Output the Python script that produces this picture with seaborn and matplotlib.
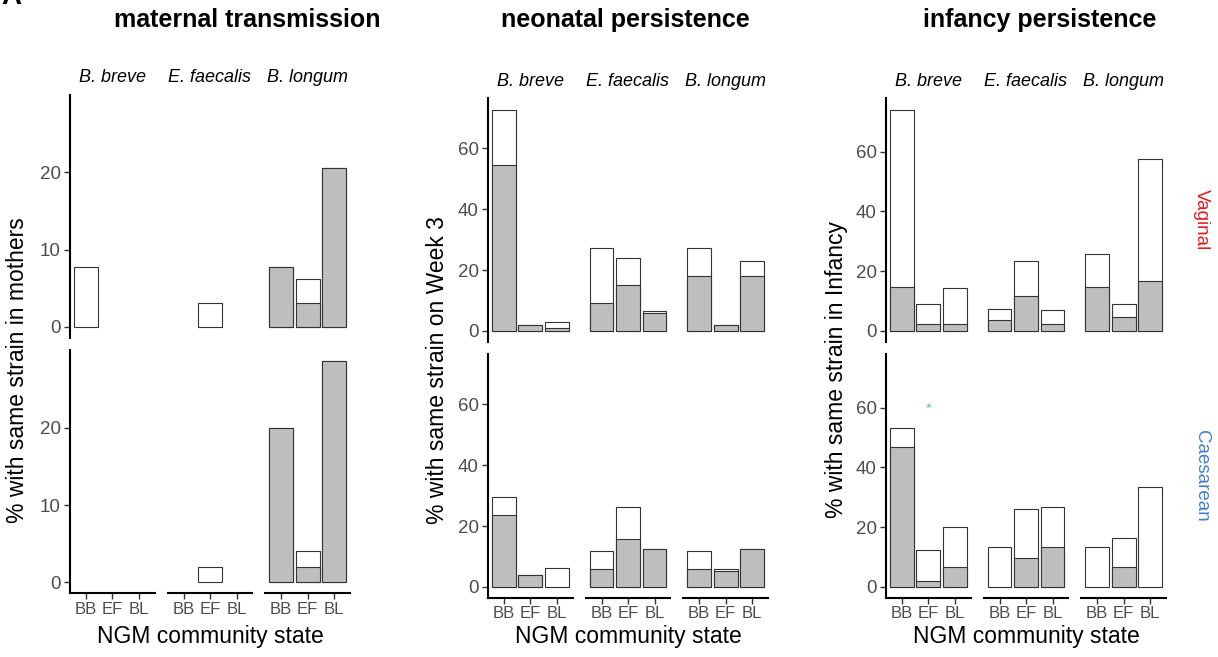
import numpy as np
import pandas as pd
import matplotlib
matplotlib.use("Agg")
import matplotlib.pyplot as plt
import seaborn as sns

# ---------------- data ----------------
states = ["BB", "EF", "BL"]
species = ["B. breve", "E. faecalis", "B. longum"]
delivery = ["Vaginal", "Caesarean"]
panel_titles = ["maternal transmission", "neonatal persistence", "infancy persistence"]
y_titles = ["% with same strain in mothers", "% with same strain on Week 3",
            "% with same strain in Infancy"]
x_title = "NGM community state"
y_ticks_maternal = [0, 10, 20]
y_ticks_persist = [0, 20, 40, 60]

# total (white) and shared/grey values: rows = species, columns = states
maternal_total_vaginal = [[7.7, 0, 0], [0, 3.1, 0], [7.7, 6.2, 20.6]]
maternal_grey_vaginal = [[0, 0, 0], [0, 0, 0], [7.7, 3.1, 20.6]]
maternal_total_caesarean = [[0, 0, 0], [0, 2.0, 0], [20.0, 4.0, 28.6]]
maternal_grey_caesarean = [[0, 0, 0], [0, 0, 0], [20.0, 2.0, 28.6]]

neonatal_total_vaginal = [[72.7, 2.1, 2.8], [27.3, 23.9, 6.7], [27.3, 2.1, 23.1]]
neonatal_grey_vaginal = [[54.5, 2.1, 0.9], [9.1, 15.2, 5.8], [18.2, 2.1, 18.2]]
neonatal_total_caesarean = [[29.4, 3.8, 6.2], [11.8, 26.3, 12.5], [11.8, 5.9, 12.5]]
neonatal_grey_caesarean = [[23.5, 3.8, 0], [5.9, 15.8, 12.5], [5.9, 5.3, 12.5]]

infancy_total_vaginal = [[74.1, 9.1, 14.3], [7.4, 23.3, 7.1], [25.9, 9.1, 57.6]]
infancy_grey_vaginal = [[14.8, 2.3, 2.3], [3.7, 11.6, 2.3], [14.8, 4.7, 16.6]]
infancy_total_caesarean = [[53.3, 12.5, 20.0], [13.3, 26.1, 26.7], [13.3, 16.5, 33.3]]
infancy_grey_caesarean = [[46.7, 2.1, 6.7], [0, 9.7, 13.3], [0, 6.7, 0]]

star_label = "*"
star_value = 59.5

panels = [
    (maternal_total_vaginal, maternal_grey_vaginal, maternal_total_caesarean, maternal_grey_caesarean),
    (neonatal_total_vaginal, neonatal_grey_vaginal, neonatal_total_caesarean, neonatal_grey_caesarean),
    (infancy_total_vaginal, infancy_grey_vaginal, infancy_total_caesarean, infancy_grey_caesarean),
]

def make_df(total, grey):
    rows = []
    for si, sp in enumerate(species):
        for ci, st in enumerate(states):
            rows.append(dict(species=sp, state=st, total=total[si][ci], grey=grey[si][ci]))
    return pd.DataFrame(rows)

# ---------------- style ----------------
sns.set_style("white")
plt.rcParams["font.family"] = ["Liberation Sans", "DejaVu Sans"]
plt.rcParams["text.color"] = "black"

W, H = 1218, 657
fig = plt.figure(figsize=(W / 100, H / 100), dpi=100)

def fx(px):
    return px / W

def fy(py):
    return 1 - py / H

panel_x0 = [70, 488, 886]
facet_w = 84.8
facet_step = 97.6
row_spans = [
    [(95, 337.7), (350.3, 593.3)],
    [(98.5, 342), (354.5, 598)],
    [(98.5, 342), (354.5, 598)],
]
title_x = [247, 625, 1040]
ylab_x = [18, 437, 836]
strip_y = [77, 81, 81]

edge = "#333333"
grey_fill = "#BEBEBE"
tick_col = "#4D4D4D"

for p, (tv, gv, tc, gc) in enumerate(panels):
    dfs = [make_df(tv, gv), make_df(tc, gc)]
    ymax_data = max(df["total"].max() for df in dfs)
    ylim = (-0.05 * ymax_data, 1.05 * ymax_data)
    yt = y_ticks_maternal if p == 0 else y_ticks_persist
    for r, df in enumerate(dfs):
        top, bot = row_spans[p][r]
        for c, sp in enumerate(species):
            x0 = panel_x0[p] + c * facet_step
            ax = fig.add_axes([fx(x0), fy(bot), facet_w / W, (bot - top) / H])
            sub = df[df["species"] == sp]
            tot = sub[sub["total"] > 0]
            gr = sub[sub["grey"] > 0]
            if len(tot):
                sns.barplot(data=tot, x="state", y="total", order=states, color="white",
                            saturation=1, edgecolor=edge, linewidth=0.8, width=0.9,
                            errorbar=None, ax=ax)
            if len(gr):
                sns.barplot(data=gr, x="state", y="grey", order=states, color=grey_fill,
                            saturation=1, edgecolor=edge, linewidth=0.8, width=0.9,
                            errorbar=None, ax=ax)
            if p == 2 and r == 1 and c == 0:
                ax.text(states.index("EF"), star_value, star_label, color="#66C2A5",
                        ha="center", va="center", fontsize=11)
            ax.set_xlim(-0.6, 2.6)
            ax.set_ylim(*ylim)
            ax.set_xticks(range(len(states)))
            ax.set_xticklabels(states)
            ax.set_yticks(yt)
            ax.set_xlabel("")
            ax.set_ylabel("")
            ax.set_facecolor("none")
            for s in ["top", "right"]:
                ax.spines[s].set_visible(False)
            ax.spines["left"].set_visible(c == 0)
            ax.spines["bottom"].set_visible(r == 1)
            for s in ["left", "bottom"]:
                ax.spines[s].set_linewidth(1.5)
                ax.spines[s].set_color("black")
            ax.tick_params(axis="y", left=(c == 0), labelleft=(c == 0), length=4.5,
                           width=1.0, color=edge, labelsize=13.5, labelcolor=tick_col, pad=2)
            ax.tick_params(axis="x", bottom=(r == 1), labelbottom=(r == 1), length=4,
                           width=1.0, color=edge, labelsize=12, labelcolor=tick_col, pad=2)
            if r == 0:
                fig.text(fx(x0 + facet_w / 2), fy(strip_y[p]), sp, style="italic",
                         fontsize=13, ha="center", va="center", color="black")
    # panel titles / axis titles
    fig.text(fx(title_x[p]), fy(20), panel_titles[p], fontsize=18, fontweight="bold",
             ha="center", va="center", color="black")
    fig.text(fx(ylab_x[p]), fy(370), y_titles[p], fontsize=16.5, rotation=90,
             ha="center", va="center", color="black")
    xc = panel_x0[p] + (2 * facet_step + facet_w) / 2
    fig.text(fx(xc), fy(636), x_title, fontsize=16.5, ha="center", va="center", color="black")

fig.text(fx(1201), fy(220), delivery[0], rotation=-90, color="#E41A1C", fontsize=13.5,
         ha="center", va="center")
fig.text(fx(1201), fy(476), delivery[1], rotation=-90, color="#3F80CF", fontsize=13.5,
         ha="center", va="center")
fig.text(fx(1), fy(4), "A", fontsize=20, fontweight="bold", ha="left", va="baseline",
         color="black")

fig.savefig("out.png", dpi=100)
